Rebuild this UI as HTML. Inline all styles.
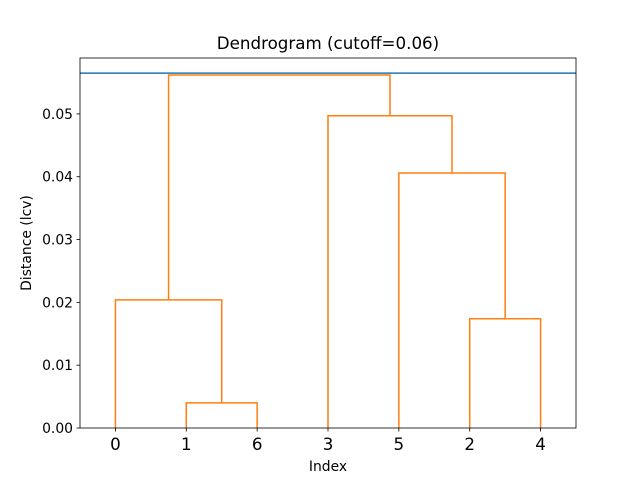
<!DOCTYPE html>
<html><head><meta charset="utf-8"><style>
html,body{margin:0;padding:0;background:#fff;}
svg{display:block;font-family:"DejaVu Sans","Liberation Sans",sans-serif;}
</style></head><body>
<svg id="chart" width="640" height="480" xmlns="http://www.w3.org/2000/svg"></svg>
<script>
const leafLabels = ["0","1","6","3","5","2","4"];
// merges: children refer to leaf position (L#) or merge index (M#)
const mergeLeft  = ["L1","L0","L5","L4","L3","M1"];
const mergeRight = ["L2","M0","L6","M2","M3","M4"];
const mergeHeight = [0.0040,0.0204,0.0174,0.0406,0.0497,0.0562];
const cutoff = 0.0565;
const yTicks = [0,0.01,0.02,0.03,0.04,0.05];
const yTickLabels = ["0.00","0.01","0.02","0.03","0.04","0.05"];

const NS="http://www.w3.org/2000/svg";
const svg=document.getElementById('chart');
const L=80,R=576,T=58,B=428;
const yMax=0.0589;
const xs=i=>L+(5+10*i)*(R-L)/(10*leafLabels.length);
const ys=v=>B-v/yMax*(B-T);
function mk(tag,attrs,parent){const e=document.createElementNS(NS,tag);for(const k in attrs)e.setAttribute(k,attrs[k]);(parent||svg).appendChild(e);return e;}

const nodeX=[],nodeY=[];
function pos(ref){const i=+ref.slice(1);return ref[0]==="L"?[xs(i),0]:[nodeX[i],nodeY[i]];}
for(let m=0;m<mergeHeight.length;m++){
  const [x1,h1]=pos(mergeLeft[m]);const [x2,h2]=pos(mergeRight[m]);
  const h=mergeHeight[m];
  const p=mk('path',{d:`M${x1},${ys(h1)}L${x1},${ys(h)}L${x2},${ys(h)}L${x2},${ys(h2)}`,fill:'none',stroke:'#ff7f0e','stroke-width':1.5});
  
  
  nodeX[m]=(x1+x2)/2;nodeY[m]=h;
}
const cl=mk('line',{x1:L,x2:R,y1:ys(cutoff),y2:ys(cutoff),stroke:'#1f77b4','stroke-width':1.5});



const fr=mk('rect',{x:L,y:T,width:R-L,height:B-T,fill:'none',stroke:'#000','stroke-width':0.8});



yTicks.forEach((v,i)=>{
  const y=ys(v);
  mk('line',{x1:L-3.5,x2:L,y1:y,y2:y,stroke:'#000','stroke-width':0.8});
  const t=mk('text',{x:L-7,y:y+5,'text-anchor':'end','font-size':13.9});
  t.textContent=yTickLabels[i];
  
  
});
leafLabels.forEach((lab,i)=>{
  const x=xs(i);
  mk('line',{x1:x,x2:x,y1:B,y2:B+3.5,stroke:'#000','stroke-width':0.8});
  const t=mk('text',{x:x,y:B+22,'text-anchor':'middle','font-size':16.7});
  t.textContent=lab;
  
  
});
const ti=mk('text',{x:(L+R)/2,y:49,'text-anchor':'middle','font-size':16.7});
ti.textContent="Dendrogram (cutoff=0.06)";


const xl=mk('text',{x:(L+R)/2,y:471,'text-anchor':'middle','font-size':13.9});
xl.textContent="Index";


const yl=mk('text',{x:0,y:0,'text-anchor':'middle','font-size':13.9,transform:`translate(31,${(T+B)/2}) rotate(-90)`});
yl.textContent="Distance (lcv)";


</script>
</body></html>
